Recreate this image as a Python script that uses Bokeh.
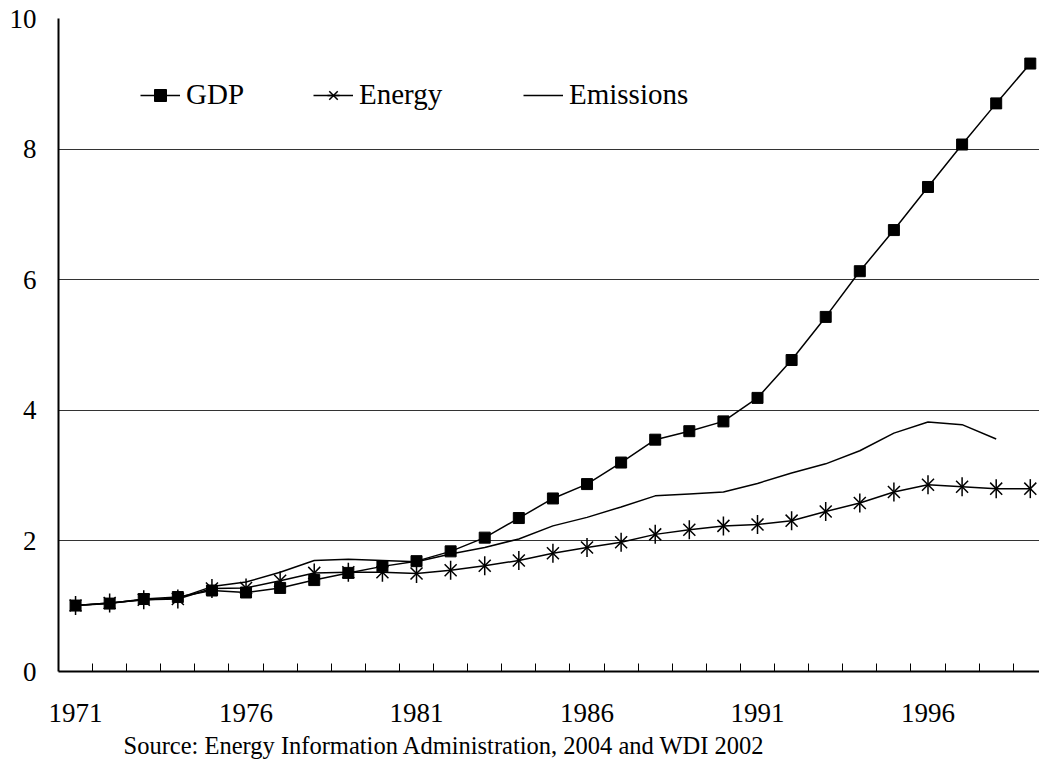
import math
from bokeh.plotting import figure
from bokeh.models import Range1d, FixedTicker, Legend, LegendItem, Title
from bokeh.embed import file_html
from bokeh.resources import INLINE

# ---- data (index, 1971 = 1) ----
years = list(range(1971, 2000))
gdp = [1.01, 1.04, 1.11, 1.14, 1.24, 1.21, 1.28, 1.40, 1.51, 1.61,
       1.69, 1.84, 2.05, 2.35, 2.65, 2.87, 3.20, 3.55, 3.68, 3.83,
       4.19, 4.77, 5.43, 6.13, 6.76, 7.42, 8.07, 8.70, 9.31]
energy = [1.01, 1.05, 1.10, 1.11, 1.27, 1.28, 1.39, 1.51, 1.52, 1.52,
          1.50, 1.55, 1.62, 1.70, 1.81, 1.90, 1.98, 2.10, 2.17, 2.23,
          2.25, 2.31, 2.45, 2.58, 2.75, 2.86, 2.83, 2.80, 2.80]
emis_years = list(range(1971, 1999))
emissions = [1.01, 1.05, 1.10, 1.12, 1.30, 1.37, 1.52, 1.70, 1.72, 1.70,
             1.68, 1.80, 1.90, 2.03, 2.23, 2.36, 2.52, 2.69, 2.72, 2.75,
             2.88, 3.04, 3.18, 3.38, 3.65, 3.82, 3.78, 3.56]
y_ticks = [0, 2, 4, 6, 8, 10]
x_label_years = [1971, 1976, 1981, 1986, 1991, 1996]
source_text = "Source: Energy Information Administration, 2004 and WDI 2002"

FONT = "Liberation Serif"

p = figure(width=1039, height=769, frame_width=981, frame_height=653,
           x_range=Range1d(1970.5, 1999.27), y_range=Range1d(0, 10),
           output_backend="svg", toolbar_location=None,
           min_border_left=58, min_border_top=18, min_border_right=0,
           min_border_bottom=98)
p.outline_line_color = None
p.background_fill_color = "white"

# grid
p.xgrid.visible = False
p.ygrid.ticker = FixedTicker(ticks=y_ticks)
p.ygrid.grid_line_color = "#333333"
p.ygrid.grid_line_width = 1

# x axis
xa = p.xaxis[0]
xa.ticker = FixedTicker(ticks=x_label_years,
                        minor_ticks=[y + 0.5 for y in years[:-1]])
xa.major_tick_in = 0
xa.major_tick_out = 0
xa.minor_tick_in = 8
xa.minor_tick_out = 0
xa.minor_tick_line_color = "black"
xa.minor_tick_line_width = 1
xa.axis_line_color = "black"
xa.axis_line_width = 2
xa.major_label_text_font = FONT
xa.major_label_text_font_size = "27px"
xa.major_label_text_color = "black"
xa.major_label_standoff = 32

# y axis
ya = p.yaxis[0]
ya.ticker = FixedTicker(ticks=y_ticks)
ya.major_tick_in = 0
ya.major_tick_out = 0
ya.minor_tick_line_color = None
ya.axis_line_color = "black"
ya.axis_line_width = 2
ya.major_label_text_font = FONT
ya.major_label_text_font_size = "27px"
ya.major_label_text_color = "black"
ya.major_label_standoff = 22

# series
r_emis = p.line(emis_years, emissions, line_color="black", line_width=1.5)
r_en_l = p.line(years, energy, line_color="black", line_width=1.5)
r_en_x = p.scatter(years, energy, marker="x", size=17,
                   line_color="black", line_width=1.5)
r_en_v = p.scatter(years, energy, marker="dash", size=19, angle=math.pi / 2,
                   line_color="black", line_width=1.5)
r_gdp_l = p.line(years, gdp, line_color="black", line_width=1.5)
r_gdp_m = p.scatter(years, gdp, marker="square", size=11,
                    fill_color="black", line_color="black")

def make_legend(label, renderers, x):
    lg = Legend(items=[LegendItem(label=label, renderers=renderers)],
                location=(x, 560), orientation="horizontal",
                glyph_width=40, glyph_height=30, label_standoff=6,
                padding=0, margin=0, spacing=0,
                border_line_color=None, background_fill_alpha=0,
                label_text_font=FONT, label_text_font_size="29px",
                label_text_color="black", label_height=30)
    p.add_layout(lg)

make_legend("GDP", [r_gdp_l, r_gdp_m], 82)
make_legend("Energy", [r_en_l, r_en_x, r_en_v], 255)
make_legend("Emissions", [r_emis], 465)

src = Title(text=source_text, align="left", offset=65,
            text_font=FONT, text_font_size="24.5px",
            text_font_style="normal", text_color="black", standoff=11)
p.add_layout(src, "below")

open("out.html", "w").write(file_html(p, INLINE))
